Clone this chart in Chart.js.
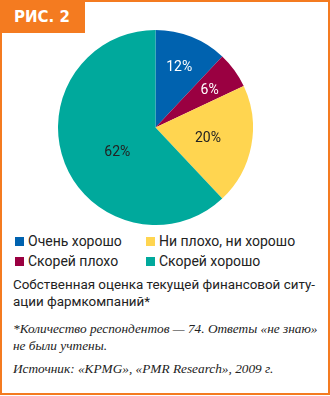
<!DOCTYPE html>
<html>
<head>
<meta charset="utf-8">
<script src="https://cdn.jsdelivr.net/npm/chart.js@4"></script>
<style>
  body { margin: 0; background: #fff; }
  #frame { position: absolute; left: 0; top: 0; width: 326px; height: 391px; border: 2px solid #f47b20; background: #fff; overflow: hidden; }
  #badge { position: absolute; left: 0; top: 0; width: 83px; height: 31px; background: #f47b20; color: #fff; font: bold 15px "DejaVu Sans", sans-serif; line-height: 31px; text-indent: 12px; }
  #pie { position: absolute; left: 56px; top: 28px; width: 195px; height: 195px; }
  .leg { position: absolute; font: 14px Roboto, sans-serif; color: #222; white-space: nowrap; }
  .leg i { display: inline-block; width: 9px; height: 9px; margin-right: 4px; vertical-align: 0px; }
  #caption { position: absolute; left: 11px; top: 274px; font: 13.4px Roboto, sans-serif; line-height: 17px; color: #222; white-space: nowrap; }
  .note { position: absolute; left: 11px; font: italic 13.3px "Liberation Serif", serif; line-height: 17px; color: #222; white-space: nowrap; }
</style>
</head>
<body>
<div id="frame">
  <div id="badge">РИС. 2</div>
  <div id="pie"><canvas id="c"></canvas></div>
  <div id="legend"></div>
  <div id="caption">Собственная оценка текущей финансовой ситу-<br>ации фармкомпаний*</div>
  <div class="note" style="top:318px">*Количество респондентов — 74. Ответы «не знаю»<br>не были учтены.</div>
  <div class="note" style="top:358px">Источник: «KPMG», «PMR Research», 2009 г.</div>
</div>
<script>
const categories = ["Очень хорошо", "Скорей плохо", "Ни плохо, ни хорошо", "Скорей хорошо"];
const values = [12, 6, 20, 62];
const colors = ["#0062af", "#9a0041", "#ffd550", "#00a99c"];
const labelColors = ["#fff", "#fff", "#222", "#222"];

// legend, two columns: left = blue/crimson, right = yellow/teal
const legendSlots = [
  { i: 0, x: 13, y: 231 },
  { i: 1, x: 13, y: 251 },
  { i: 2, x: 144, y: 231 },
  { i: 3, x: 144, y: 251 },
];
const legend = document.getElementById("legend");
legendSlots.forEach(s => {
  const d = document.createElement("div");
  d.className = "leg";
  d.style.left = s.x + "px";
  d.style.top = s.y + "px";
  d.innerHTML = '<i style="background:' + colors[s.i] + '"></i>' + categories[s.i];
  legend.appendChild(d);
});

// label placement inside each slice: fraction of radius, angle shift in degrees
const labelRadius = [0.66, 0.67, 0.55, 0.47];
const labelShift = [0, 2, 1, -12];
const sliceLabels = {
  id: "sliceLabels",
  afterDatasetsDraw(chart) {
    const ctx = chart.ctx;
    const meta = chart.getDatasetMeta(0);
    ctx.save();
    ctx.font = "14px Roboto, sans-serif";
    ctx.textAlign = "center";
    ctx.textBaseline = "middle";
    meta.data.forEach((arc, i) => {
      const p = arc.getProps(["x", "y", "startAngle", "endAngle", "outerRadius"], true);
      const a = (p.startAngle + p.endAngle) / 2 + labelShift[i] * Math.PI / 180;
      const r = p.outerRadius * labelRadius[i];
      ctx.fillStyle = labelColors[i];
      ctx.fillText(values[i] + "%", p.x + Math.cos(a) * r, p.y + Math.sin(a) * r);
    });
    ctx.restore();
  }
};

new Chart(document.getElementById("c"), {
  type: "pie",
  data: {
    labels: categories,
    datasets: [{ data: values, backgroundColor: colors, borderWidth: 0 }]
  },
  options: {
    responsive: true,
    maintainAspectRatio: false,
    animation: false,
    layout: { padding: 0 },
    plugins: { legend: { display: false }, tooltip: { enabled: false } }
  },
  plugins: [sliceLabels]
});
</script>
</body>
</html>
